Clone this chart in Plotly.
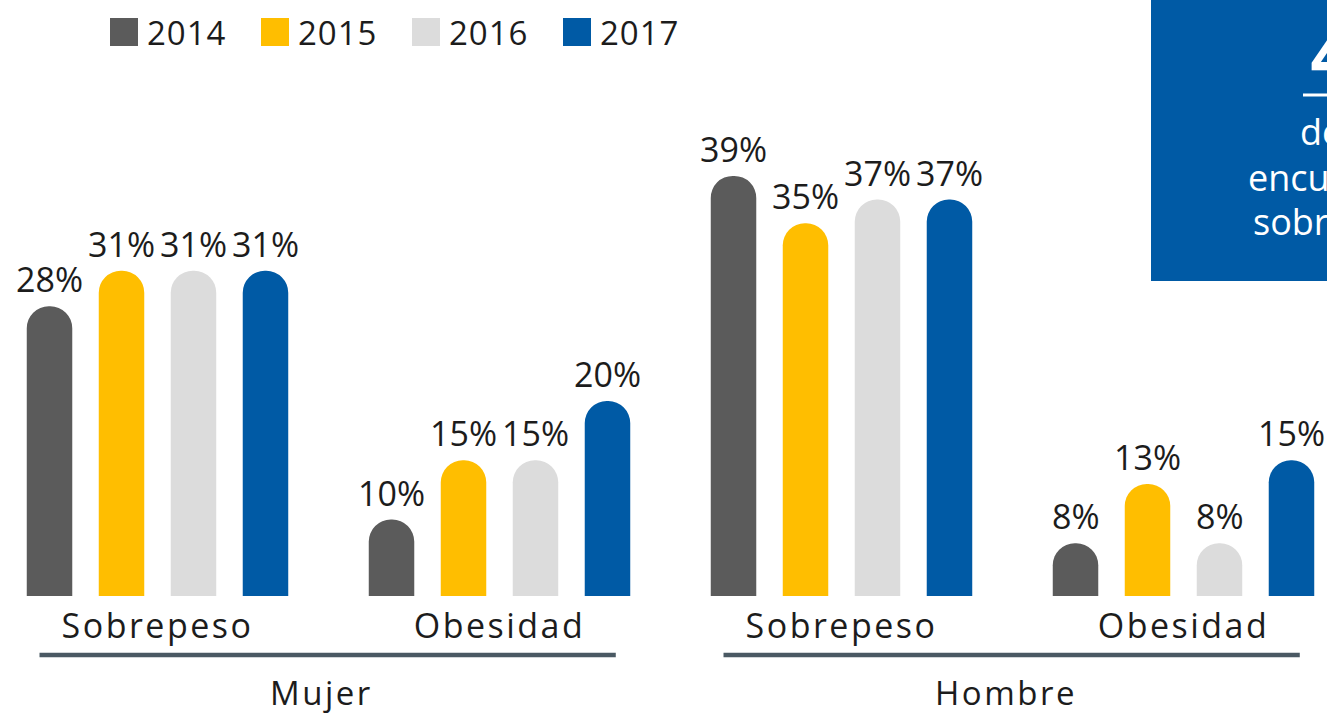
import plotly.graph_objects as go

years = ["2014", "2015", "2016", "2017"]
colors = ["#5b5b5b", "#ffbe00", "#dcdcdc", "#005aa5"]
categories = ["Sobrepeso", "Obesidad", "Sobrepeso", "Obesidad"]
groups = ["Mujer", "Hombre"]

v2014 = [28, 10, 39, 8]
v2015 = [31, 15, 35, 13]
v2016 = [31, 15, 37, 8]
v2017 = [31, 20, 37, 15]
series = [v2014, v2015, v2016, v2017]

W, H = 1327, 713
PLOT_H = 596          # plot area height in px (top margin 0)
FONT = "Open Sans"
TXT = "#1c1c1c"
BOX = "#005aa5"
Y0, PX_PER_PCT = 3.55, 11.85


def px(x):
    return x / W


def py(y):
    return (PLOT_H - y) / PLOT_H


def spaced(s, sp):
    return f'<span style="letter-spacing:{sp}px">{s}</span>'


bargap = 0.158
bargroupgap = 0.368
slot = (1 - bargap) / len(years)
xs = list(range(len(categories)))

fig = go.Figure()
for j, (yr, vals) in enumerate(zip(years, series)):
    fig.add_trace(go.Bar(
        x=xs, y=vals, name=yr,
        marker=dict(color=colors[j], line=dict(width=0)),
        showlegend=False,
    ))

annotations = []
# value labels above bars
for j, vals in enumerate(series):
    for i, v in enumerate(vals):
        annotations.append(dict(
            x=i + (j - 1.5) * slot, y=v, xref="x", yref="y",
            text=f"{v}%", showarrow=False, yanchor="bottom", yshift=2,
            font=dict(family=FONT, size=34, color=TXT),
        ))

# group lines and labels
shapes = []
for g, name in enumerate(groups):
    a, b = 2 * g, 2 * g + 1
    shapes.append(dict(type="line", xref="x", yref="paper",
                       x0=a - 0.345, x1=b + 0.34, y0=py(655), y1=py(655),
                       line=dict(color="#4a5963", width=4.5)))
    annotations.append(dict(
        x=(a + b) / 2 - 0.02, y=py(692), xref="x", yref="paper",
        text=spaced(name, 2.5), showarrow=False, yanchor="middle",
        font=dict(family=FONT, size=33, color=TXT),
    ))

# manual legend
for j, yr in enumerate(years):
    x0 = 110 + 151 * j
    shapes.append(dict(type="rect", xref="paper", yref="paper",
                       x0=px(x0), x1=px(x0 + 28), y0=py(46), y1=py(18),
                       fillcolor=colors[j], line=dict(width=0)))
    annotations.append(dict(
        x=px(x0 + 35), y=py(32), xref="paper", yref="paper",
        text=spaced(yr, 1), showarrow=False, xanchor="left", yanchor="middle",
        font=dict(family=FONT, size=33, color=TXT),
    ))

# blue callout box (cut at the right edge)
shapes.append(dict(type="rect", xref="paper", yref="paper", layer="above",
                   x0=px(1151), x1=1.05, y0=py(281), y1=1.05,
                   fillcolor=BOX, line=dict(width=0)))
shapes.append(dict(type="line", xref="paper", yref="paper", layer="above",
                   x0=px(1303), x1=1.05, y0=py(95), y1=py(95),
                   line=dict(color="white", width=3)))
annotations.append(dict(
    x=px(1308), y=py(50), xref="paper", yref="paper", text="4",
    showarrow=False, xanchor="left", yanchor="middle",
    font=dict(family=FONT, size=86, color="white", weight=600),
))
for word, x0, yc in [("de", 1298, 131), ("encuestados", 1246, 178), ("sobrepeso", 1251, 222)]:
    annotations.append(dict(
        x=px(x0), y=py(yc), xref="paper", yref="paper", text=word,
        showarrow=False, xanchor="left", yanchor="middle",
        font=dict(family=FONT, size=36, color="white"),
    ))

fig.update_layout(
    width=W, height=H,
    margin=dict(l=0, r=0, t=0, b=H - PLOT_H),
    barmode="group", bargap=bargap, bargroupgap=bargroupgap,
    barcornerradius="50%",
    plot_bgcolor="white", paper_bgcolor="white",
    xaxis=dict(
        range=[-157.5 / 342, -157.5 / 342 + W / 342],
        tickvals=xs, ticktext=[spaced(c, 2.5) for c in categories],
        ticks="", showgrid=False, zeroline=False, showline=False,
        ticklabelstandoff=7,
        tickfont=dict(family=FONT, size=34, color=TXT),
    ),
    yaxis=dict(range=[Y0, Y0 + PLOT_H / PX_PER_PCT], visible=False),
    shapes=shapes, annotations=annotations,
    font=dict(family=FONT),
)

fig.write_html(
    "out.html",
    config={"displayModeBar": False},
    post_script="document.body.style.margin='0';document.body.style.overflow='hidden';",
)
